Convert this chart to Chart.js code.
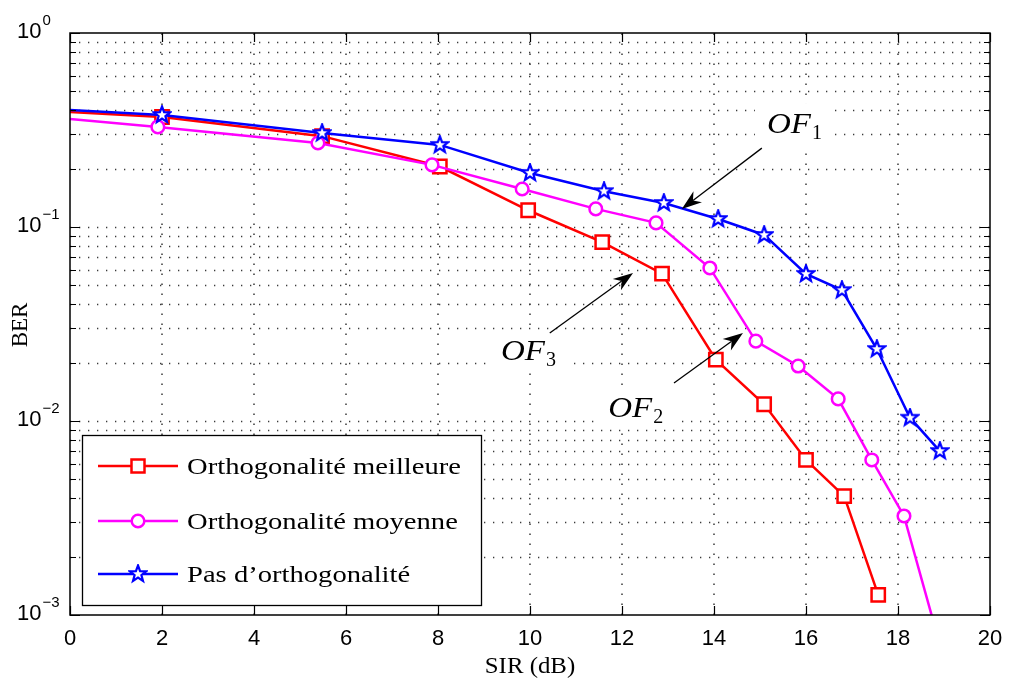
<!DOCTYPE html>
<html><head><meta charset="utf-8">
<script src="https://cdn.jsdelivr.net/npm/chart.js@4/dist/chart.umd.min.js"></script>
<style>html,body{margin:0;padding:0;background:#fff}</style>
</head><body>
<canvas id="c" width="1009" height="688"></canvas>
<script>
// ---- data ----
const sirBest = [0, 2.0, 5.48, 8.04, 9.96, 11.57, 12.87, 14.04, 15.09, 16.0, 16.83, 17.57];
const berBest = [0.392, 0.369, 0.294, 0.205, 0.122, 0.0835, 0.0575, 0.0207, 0.0122, 0.0063, 0.0041, 0.00127];
const sirMid = [0, 1.91, 5.39, 7.87, 9.83, 11.43, 12.74, 13.91, 14.91, 15.83, 16.70, 17.43, 18.13, 18.95];
const berMid = [0.36, 0.328, 0.271, 0.209, 0.157, 0.124, 0.105, 0.0615, 0.0258, 0.0192, 0.013, 0.0063, 0.00324, 0.00065];
const sirNone = [0, 2.0, 5.48, 8.04, 10.0, 11.61, 12.91, 14.09, 15.09, 16.0, 16.78, 17.54, 18.26, 18.91];
const berNone = [0.401, 0.378, 0.305, 0.265, 0.19, 0.153, 0.133, 0.110, 0.091, 0.0573, 0.0473, 0.0235, 0.0104, 0.0070];
const seriesNames = ['Orthogonalité meilleure', 'Orthogonalité moyenne', 'Pas d\u2019orthogonalité'];
const xTicks = [0, 2, 4, 6, 8, 10, 12, 14, 16, 18, 20];
const yDecades = [-3, -2, -1, 0];
const xTitle = 'SIR (dB)';
const yTitle = 'BER';
// annotations: label (left, baseline), arrow tail -> tip, in data units
const annLabels = [
  {main: 'OF', sub: '1', x: 15.15, y: 0.305},
  {main: 'OF', sub: '3', x: 9.37, y: 0.0206},
  {main: 'OF', sub: '2', x: 11.70, y: 0.0105}
];
const annArrows = [
  {x0: 15.04, y0: 0.255, x1: 13.30, y1: 0.124},
  {x0: 10.43, y0: 0.0284, x1: 12.24, y1: 0.058},
  {x0: 13.13, y0: 0.0157, x1: 14.63, y1: 0.0284}
];

// ---- star marker ----
function makeStar(size, color, fill) {
  const c = document.createElement('canvas');
  c.width = size; c.height = size;
  const g = c.getContext('2d');
  const cx = size / 2, cy = size / 2, R = size / 2 - 1.5, r = R * 0.42;
  g.beginPath();
  for (let i = 0; i < 10; i++) {
    const a = -Math.PI / 2 + i * Math.PI / 5;
    const rr = i % 2 ? r : R;
    const px = cx + rr * Math.cos(a), py = cy + rr * Math.sin(a);
    i ? g.lineTo(px, py) : g.moveTo(px, py);
  }
  g.closePath();
  g.fillStyle = fill; g.fill();
  g.strokeStyle = color; g.lineWidth = 2.2; g.lineJoin = 'miter'; g.stroke();
  return c;
}
const starImg = makeStar(20, '#0000ff', '#ffffff');

function pts(xs, ys) { return xs.map((x, i) => ({x: x, y: ys[i]})); }
function radii(n, r) { return Array.from({length: n}, (_, i) => i === 0 ? 0 : r); }

const RED = '#ff0000', MAG = '#ff00ff', BLUE = '#0000ff';

function stretchText(ctx, txt, x, y, sx) {
  ctx.save(); ctx.translate(x, y); ctx.scale(sx, 1); ctx.fillText(txt, 0, 0); ctx.restore();
}

const deco = {
  id: 'deco',
  beforeDatasetsDraw(chart) {
    const ctx = chart.ctx, a = chart.chartArea;
    const xs = chart.scales.x, ys = chart.scales.y;
    ctx.save();
    ctx.strokeStyle = '#3a3a3a';
    ctx.lineWidth = 1.5;
    // vertical dotted grid
    ctx.setLineDash([1.5, 8.5]);
    xTicks.forEach(v => {
      if (v === 0 || v === 20) return;
      const px = Math.round(xs.getPixelForValue(v));
      ctx.beginPath(); ctx.moveTo(px, a.bottom); ctx.lineTo(px, a.top); ctx.stroke();
    });
    // horizontal dotted grid
    ctx.lineWidth = 1.3;
    ctx.setLineDash([1.3, 7.7]);
    yDecades.forEach(e => {
      if (e === 0) return;
      for (let k = 1; k <= 9; k++) {
        const v = k * Math.pow(10, e);
        if (e === -3 && k === 1) continue;
        const py = Math.round(ys.getPixelForValue(v)) + 0.5;
        ctx.beginPath(); ctx.moveTo(a.left, py); ctx.lineTo(a.right, py); ctx.stroke();
      }
    });
    ctx.setLineDash([]);
    // white backgrounds behind annotation labels
    ctx.fillStyle = '#ffffff';
    annLabels.forEach(l => {
      const px = xs.getPixelForValue(l.x), py = ys.getPixelForValue(l.y);
      ctx.fillRect(px - 12, py - 30, 80, 42);
    });
    ctx.restore();
  },
  afterDatasetsDraw(chart) {
    const ctx = chart.ctx, a = chart.chartArea;
    const xs = chart.scales.x, ys = chart.scales.y;
    ctx.save();
    // arrows
    ctx.strokeStyle = '#000'; ctx.fillStyle = '#000'; ctx.lineWidth = 1.3;
    annArrows.forEach(ar => {
      const x0 = xs.getPixelForValue(ar.x0), y0 = ys.getPixelForValue(ar.y0);
      const x1 = xs.getPixelForValue(ar.x1), y1 = ys.getPixelForValue(ar.y1);
      const ang = Math.atan2(y1 - y0, x1 - x0);
      const L = 20, W = 7, N = 14;
      const bx = x1 - L * Math.cos(ang), by = y1 - L * Math.sin(ang);
      const nx = x1 - N * Math.cos(ang), ny = y1 - N * Math.sin(ang);
      ctx.beginPath(); ctx.moveTo(x0, y0); ctx.lineTo(nx, ny); ctx.stroke();
      ctx.beginPath();
      ctx.moveTo(x1, y1);
      ctx.lineTo(bx + W * Math.sin(ang), by - W * Math.cos(ang));
      ctx.lineTo(nx, ny);
      ctx.lineTo(bx - W * Math.sin(ang), by + W * Math.cos(ang));
      ctx.closePath(); ctx.fill();
    });
    // annotation labels
    ctx.fillStyle = '#000'; ctx.textBaseline = 'alphabetic'; ctx.textAlign = 'left';
    annLabels.forEach(l => {
      const px = xs.getPixelForValue(l.x), py = ys.getPixelForValue(l.y);
      ctx.font = 'italic 30px "Liberation Serif"';
      const w = ctx.measureText(l.main).width * 1.1;
      stretchText(ctx, l.main, px, py, 1.1);
      ctx.font = '20px "Liberation Serif"';
      ctx.fillText(l.sub, px + w + 1, py + 6);
    });
    // legend
    const lx = 82.5, ly = 435.5, lw = 399, lh = 170;
    ctx.fillStyle = '#fff'; ctx.fillRect(lx, ly, lw, lh);
    ctx.strokeStyle = '#000'; ctx.lineWidth = 1.3; ctx.strokeRect(lx, ly, lw, lh);
    const rows = [466, 521, 574];
    const cols = [RED, MAG, BLUE];
    ctx.font = '23px "Liberation Serif"';
    const sx = 274 / ctx.measureText(seriesNames[0]).width;
    rows.forEach((ry, i) => {
      ctx.strokeStyle = cols[i]; ctx.lineWidth = 2.5;
      ctx.beginPath(); ctx.moveTo(98, ry); ctx.lineTo(178, ry); ctx.stroke();
      if (i === 0) {
        ctx.fillStyle = '#fff'; ctx.fillRect(131.5, ry - 6.5, 13, 13);
        ctx.strokeRect(131.5, ry - 6.5, 13, 13);
      } else if (i === 1) {
        ctx.fillStyle = '#fff'; ctx.beginPath(); ctx.arc(138, ry, 6.3, 0, Math.PI * 2); ctx.fill(); ctx.stroke();
      } else {
        ctx.drawImage(starImg, 138 - starImg.width / 2, ry - starImg.height / 2);
      }
      ctx.fillStyle = '#000';
      stretchText(ctx, seriesNames[i], 187, ry + 8, sx);
    });
    // box
    ctx.strokeStyle = '#000'; ctx.lineWidth = 1.5;
    ctx.strokeRect(a.left, a.top, a.right - a.left, a.bottom - a.top);
    // ticks
    ctx.lineWidth = 1.2;
    xTicks.forEach(v => {
      const px = Math.round(xs.getPixelForValue(v)) + 0.5;
      ctx.beginPath(); ctx.moveTo(px, a.bottom); ctx.lineTo(px, a.bottom - 9);
      ctx.moveTo(px, a.top); ctx.lineTo(px, a.top + 9); ctx.stroke();
    });
    yDecades.forEach(e => {
      for (let k = 1; k <= 9; k++) {
        if (e === 0 && k > 1) break;
        const py = Math.round(ys.getPixelForValue(k * Math.pow(10, e))) + 0.5;
        const len = k === 1 ? 10 : 6;
        ctx.beginPath(); ctx.moveTo(a.left, py); ctx.lineTo(a.left + len, py);
        ctx.moveTo(a.right, py); ctx.lineTo(a.right - len, py); ctx.stroke();
      }
    });
    ctx.restore();
  },
  afterDraw(chart) {
    const ctx = chart.ctx, a = chart.chartArea;
    const xs = chart.scales.x, ys = chart.scales.y;
    ctx.save();
    ctx.fillStyle = '#000';
    // x tick labels
    ctx.font = '22px "Liberation Sans"'; ctx.textAlign = 'center'; ctx.textBaseline = 'alphabetic';
    xTicks.forEach(v => ctx.fillText(String(v), xs.getPixelForValue(v), 645));
    // y tick labels with superscripts
    ctx.textAlign = 'left';
    yDecades.forEach(e => {
      const py = ys.getPixelForValue(Math.pow(10, e));
      ctx.font = '22px "Liberation Sans"';
      ctx.fillText('10', 17, py + 5);
      const w = ctx.measureText('10').width;
      ctx.font = '15px "Liberation Sans"';
      ctx.fillText(e === 0 ? '0' : '\u2212' + (-e), 17 + w + 1, py - 8);
    });
    // axis titles
    ctx.font = '23px "Liberation Serif"'; ctx.textAlign = 'center';
    stretchText(ctx, xTitle, (a.left + a.right) / 2, 673, 1.08);
    ctx.save(); ctx.translate(27, 325); ctx.rotate(-Math.PI / 2);
    ctx.fillText(yTitle, 0, 0);
    ctx.restore();
    ctx.restore();
  }
};

new Chart(document.getElementById('c'), {
  type: 'scatter',
  data: {
    datasets: [
      {label: seriesNames[0], data: pts(sirBest, berBest), showLine: true, borderColor: RED, borderWidth: 2.5,
       pointStyle: 'rect', pointRadius: radii(sirBest.length, 9.4), pointBorderColor: RED, pointBorderWidth: 2.5,
       pointBackgroundColor: '#fff', clip: 0, order: 3},
      {label: seriesNames[1], data: pts(sirMid, berMid), showLine: true, borderColor: MAG, borderWidth: 2.5,
       pointStyle: 'circle', pointRadius: radii(sirMid.length, 6.3), pointBorderColor: MAG, pointBorderWidth: 2.5,
       pointBackgroundColor: '#fff', clip: 0, order: 2},
      {label: seriesNames[2], data: pts(sirNone, berNone), showLine: true, borderColor: BLUE, borderWidth: 2.5,
       pointStyle: starImg, pointRadius: radii(sirNone.length, 8), clip: 0, order: 1}
    ]
  },
  options: {
    responsive: false, animation: false, devicePixelRatio: 1,
    layout: {padding: {top: 33, right: 19, left: 0, bottom: 0}},
    plugins: {legend: {display: false}, tooltip: {enabled: false}},
    elements: {line: {tension: 0}},
    scales: {
      x: {type: 'linear', min: 0, max: 20, ticks: {display: false, stepSize: 2},
          grid: {display: false}, border: {display: false},
          afterFit(s) { s.height = 73; }},
      y: {type: 'logarithmic', min: 0.001, max: 1, ticks: {display: false},
          grid: {display: false}, border: {display: false},
          afterFit(s) { s.width = 70; }}
    }
  },
  plugins: [deco]
});
</script>
</body></html>
